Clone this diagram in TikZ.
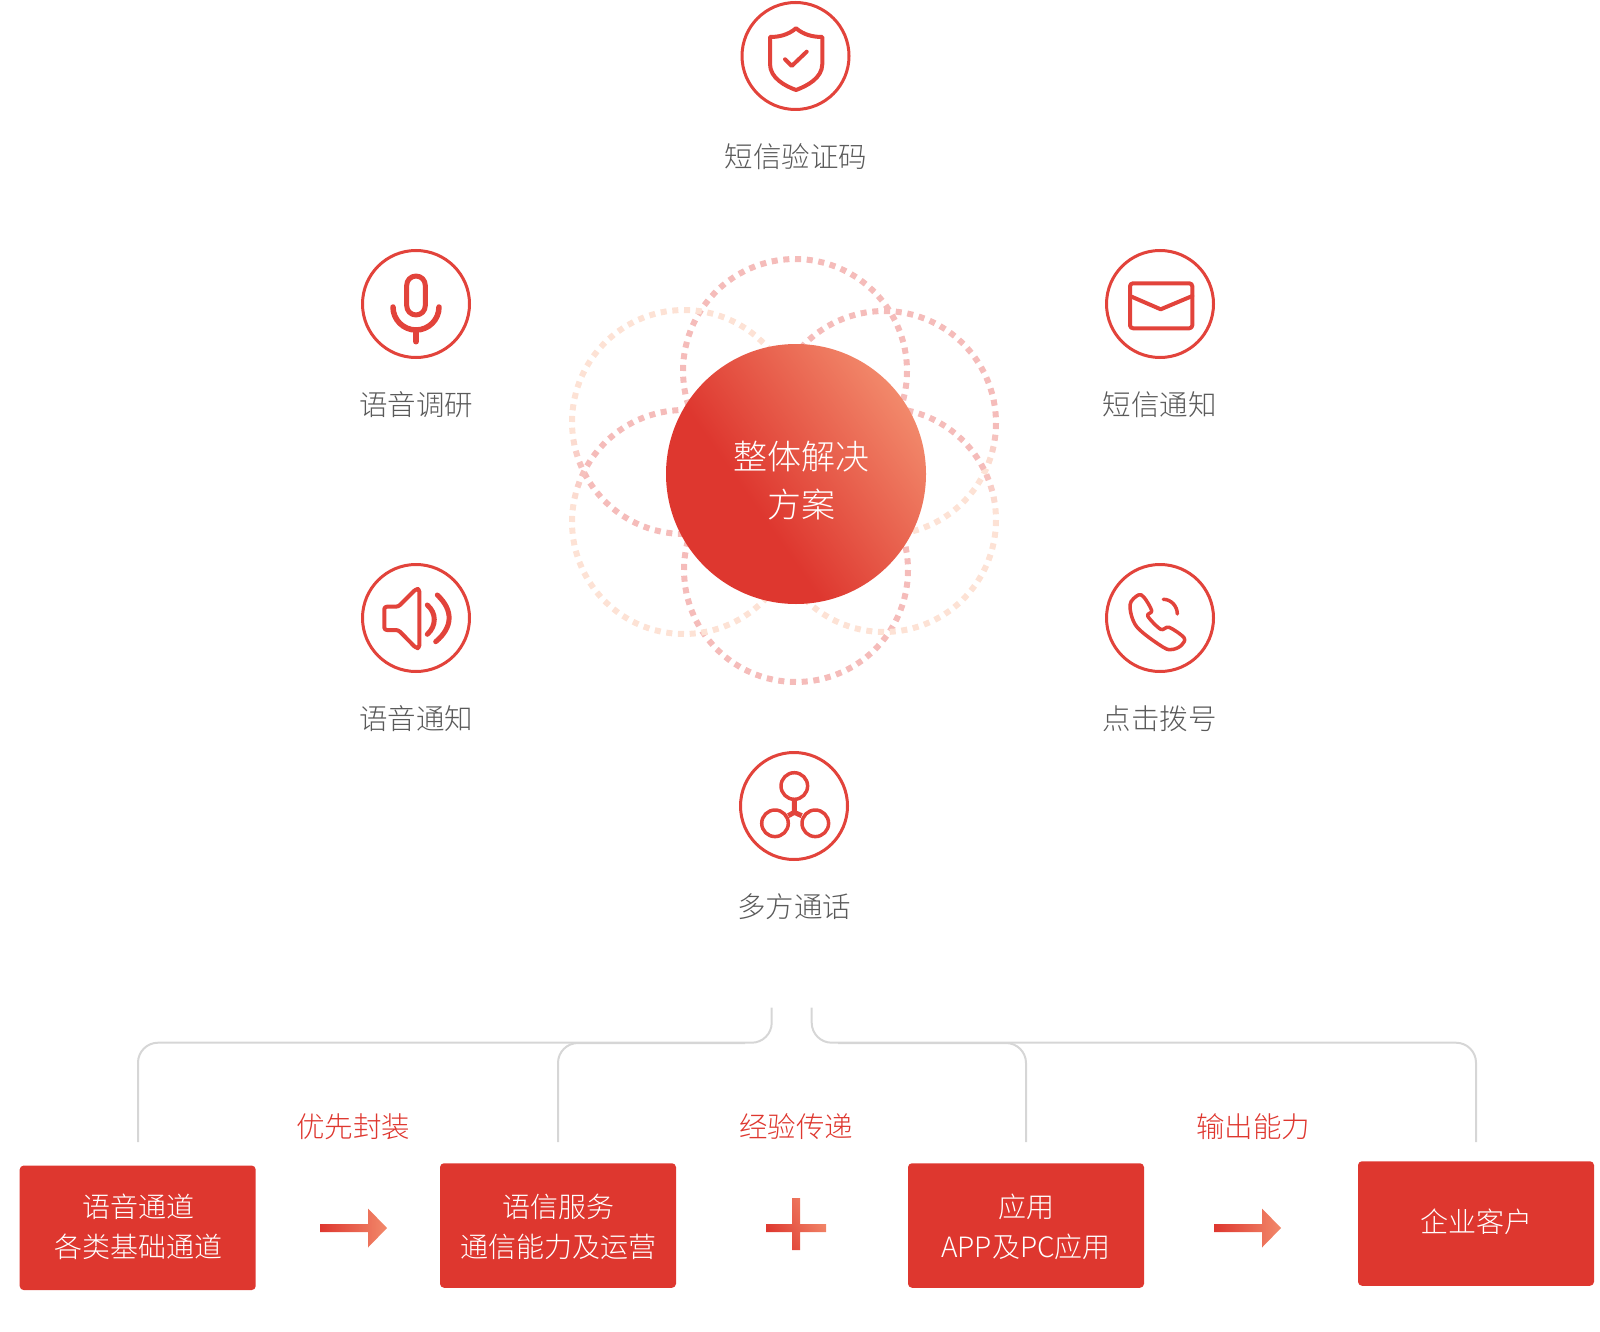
\documentclass[tikz,border=0pt]{standalone}
\usepackage{fontspec}
\setmainfont{Noto Sans CJK SC Light}
\usepackage{xcolor}
\definecolor{mainred}{HTML}{DE372F}
\definecolor{iconred}{HTML}{E2433B}
\definecolor{lightorange}{HTML}{F2896B}
\definecolor{ringpink}{HTML}{F5BCBA}
\definecolor{ringpeach}{HTML}{FDE2D5}
\definecolor{labelgrey}{HTML}{5A5A5A}
\definecolor{linegrey}{HTML}{D6D6D6}
\pgfdeclareverticalshading{discshade}{100bp}{color(0bp)=(mainred); color(40bp)=(mainred); color(75bp)=(lightorange); color(100bp)=(lightorange)}
\begin{document}
\begin{tikzpicture}[x=1pt,y=-1pt,
	iconring/.style={circle,draw=iconred,line width=3pt,minimum size=107pt,inner sep=0pt},
	iconline/.style={draw=iconred,line width=4pt,line cap=round,line join=round},
	iconlabel/.style={text=labelgrey,font=\fontsize{28.5}{40}\selectfont,inner sep=0pt},
	redlabel/.style={text=mainred,font=\fontsize{28.5}{40}\selectfont,inner sep=0pt},
	redbox/.style={fill=mainred,rounded corners=4pt,minimum width=236pt,minimum height=124.5pt,inner sep=0pt},
	boxtext/.style={text=white,align=center,font=\fontsize{28}{40}\selectfont,inner sep=0pt},
	bracket/.style={draw=linegrey,line width=2pt,rounded corners=20pt}]
\useasboundingbox (0,0) rectangle (1600,1332);
% dotted rings behind the disc
\foreach \cx/\cy/\ctop/\cbot/\pivot in {795/371/100/100/0.5,796/570/100/100/0.5,684/422/0/100/0.65,884/423/100/0/0.6,684/522/100/0/0.35,884/520/100/0/0.35}{
\foreach \a in {0,6,...,354}{
\pgfmathsetmacro\blend{min(1,max(0,(((1+sin(\a))/2-\pivot)/0.15+0.5)))}
\pgfmathsetmacro\mixpct{\ctop*(1-\blend)+\cbot*\blend}
\draw[ringpink!\mixpct!ringpeach,line width=6pt] (\cx,\cy)+(\a:112) -- +(\a+3.1:112);
}
}
% centre disc
\node[circle,minimum size=260pt,inner sep=0pt,shading=discshade,shading angle=-55] (disc) at (796,474) {};
\node[text=white,align=center,font=\fontsize{34}{48}\selectfont,inner sep=0pt] (disctext) at (801,481) {整体解决\\方案};
% icon rings
\node[iconring] (shieldring) at (795.5,56) {};
\node[iconring] (micring) at (416,304) {};
\node[iconring] (mailring) at (1160,304) {};
\node[iconring] (speakerring) at (416,618) {};
\node[iconring] (phonering) at (1160,618) {};
\node[iconring] (groupring) at (794,806) {};
\node[iconlabel] (shieldlabel) at (796,157) {短信验证码};
\node[iconlabel] (miclabel) at (416,405) {语音调研};
\node[iconlabel] (maillabel) at (1159.5,405) {短信通知};
\node[iconlabel] (speakerlabel) at (416,719) {语音通知};
\node[iconlabel] (phonelabel) at (1159.5,719) {点击拨号};
\node[iconlabel] (grouplabel) at (794,907) {多方通话};
% shield
\draw[iconline] (796,28.3) .. controls (788,35) and (779,37) .. (770,37) -- (770,64) .. controls (770,78) and (785,86) .. (796,90) .. controls (807,86) and (822.3,78) .. (822.3,64) -- (822.3,37) .. controls (813,37) and (804,35) .. (796,28.3) -- cycle;
\draw[iconline] (785,59.3) -- (791.7,66) -- (806.7,51.7);
% microphone
\draw[iconline,line width=5pt,rounded corners=9.3pt] (406.7,276) rectangle (425.3,315);
\draw[iconline,line width=5.5pt] (393,307) arc[start angle=180,end angle=0,radius=23];
\draw[iconline,line width=5.5pt] (416,330) -- (416,341.7);
% mail
\draw[iconline,rounded corners=3pt] (1130,283.3) rectangle (1192.3,328.3);
\draw[iconline] (1130,296) -- (1160.7,309.3) -- (1192.3,296);
% speaker
\draw[iconline,rounded corners=2.5pt] (384.3,606.7) -- (398.3,606.7) -- (416,589) -- (419.3,589) -- (419.3,648) -- (416,648) -- (398.3,630) -- (384.3,630) -- cycle;
\draw[iconline,line width=5pt] (427.3,605) .. controls (436.6,613) and (436.6,626) .. (427.3,634.3);
\draw[iconline,line width=5pt] (437.3,595) .. controls (453.3,610) and (453.3,627) .. (435.7,641.7);
% phone
\draw[iconline,line width=3.5pt] plot[smooth cycle,tension=0.55] coordinates {(1130,605) (1138.3,595) (1144,597.3) (1151.7,610.7) (1147.7,616) (1160.7,629.3) (1169,627.3) (1184,637.7) (1181.7,645) (1173.3,649.3) (1163.3,647.3) (1136.7,626.7)};
\draw[iconline,line width=3.5pt] (1163.3,599.3) .. controls (1171,599.3) and (1177.3,606) .. (1177.3,614);
% three linked circles
\draw[iconline,line width=3.5pt] (794.3,786) circle[radius=13.3];
\draw[iconline,line width=3.5pt] (775,823.3) circle[radius=13.3];
\draw[iconline,line width=3.5pt] (815.3,823.3) circle[radius=13.3];
\draw[iconline,line width=5pt,line cap=butt] (794.3,799) -- (794.3,812.3) -- (788.3,815.7);
\draw[iconline,line width=5pt,line cap=butt] (794.3,812.3) -- (801.7,815.7);
% boxes
\node[redbox] (voicebox) at (137.7,1227.8) {};
\node[redbox] (serverbox) at (558,1225.5) {};
\node[redbox] (appbox) at (1026,1225.5) {};
\node[redbox] (clientbox) at (1476,1223.5) {};
\node[boxtext] (voicetext) at (138,1226.5) {语音通道\\各类基础通道};
\node[boxtext] (servertext) at (558,1226.5) {语信服务\\通信能力及运营};
\node[boxtext] (apptext) at (1026,1226.5) {应用\\APP及PC应用};
\node[boxtext] (clienttext) at (1476,1222) {企业客户};
\node[redlabel] (packlabel) at (353,1127) {优先封装};
\node[redlabel] (sharelabel) at (796,1126.5) {经验传递};
\node[redlabel] (outlabel) at (1253,1126.5) {输出能力};
% brackets
\coordinate (leftstub) at (771.7,1007.7);
\coordinate (rightstub) at (811.7,1007.7);
\coordinate (voicefoot) at (138,1142);
\coordinate (serverfoot) at (558,1142);
\coordinate (appfoot) at (1026,1142);
\coordinate (clientfoot) at (1476,1142);
\coordinate (innerleft) at (745,1043);
\coordinate (innerright) at (838,1043);
\draw[bracket] (leftstub) -- (771.7,1042.7) -- (138,1042.7) -- (voicefoot);
\draw[bracket] (rightstub) -- (811.7,1042.7) -- (1476,1042.7) -- (clientfoot);
\draw[bracket] (serverfoot) -- (558,1043) -- (innerleft);
\draw[bracket] (innerright) -- (1026,1043) -- (appfoot);
% arrows and plus
\foreach \ax in {320,1214}{
\shade[left color=mainred,right color=lightorange] (\ax,1224) -- (\ax+48,1224) -- (\ax+48,1208.5) -- (\ax+67,1228) -- (\ax+48,1247.5) -- (\ax+48,1232) -- (\ax,1232) -- cycle;
}
\shade[bottom color=mainred,top color=lightorange,shading angle=-60] (766,1224) -- (792,1224) -- (792,1198) -- (800,1198) -- (800,1224) -- (826,1224) -- (826,1232) -- (800,1232) -- (800,1250) -- (792,1250) -- (792,1232) -- (766,1232) -- cycle;
\end{tikzpicture}
\end{document}
